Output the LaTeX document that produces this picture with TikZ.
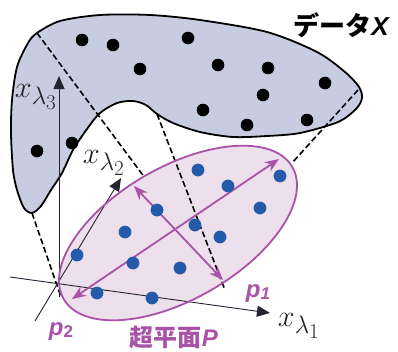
\documentclass[tikz,border=0pt]{standalone}
\usepackage{fontspec}
\setmainfont{Liberation Sans}
\newfontfamily\jpfont{Noto Sans CJK JP}
\usetikzlibrary{arrows.meta}
\definecolor{blobfill}{RGB}{200,204,224}
\definecolor{ellfill}{RGB}{237,223,235}
\definecolor{mag}{RGB}{168,82,168}
\definecolor{dotblue}{RGB}{35,90,170}
\definecolor{axisc}{RGB}{35,35,50}
\tikzset{
  blob/.style={draw=black, line width=1.8pt, fill=blobfill},
  proj/.style={draw=black, line width=1.6pt, dash pattern=on 6pt off 3pt},
  axisline/.style={draw=axisc, line width=0.9pt, -{Triangle[length=13pt,width=11pt]}},
  pcaarrow/.style={draw=mag, line width=1.8pt, {Stealth[length=14pt,width=11pt]}-{Stealth[length=14pt,width=11pt]}},
  bdot/.style={fill=black},
  udot/.style={fill=dotblue},
  axlabel/.style={text=black!85, font=\Huge, inner sep=0pt, scale=1.22, transform shape},
  plabel/.style={text=mag, font=\fontsize{24}{26}\selectfont\bfseries\itshape, inner sep=0pt}
}
\begin{document}
\begin{tikzpicture}[x=1pt,y=-1pt]
\useasboundingbox (0,0) rectangle (398,351);
% data blob
\draw[blob] plot[smooth cycle, tension=0.5] coordinates {
 (37,33) (60,21) (100,15) (150,15) (200,20) (267,32) (317,52) (345,72) (359,87) (362,98)
 (356,109) (338,122) (300,133) (267,136) (233,137) (200,132) (173,123) (157,114)
 (146,105) (133,101) (117,103) (100,113) (87,129) (73,150) (62,173) (51,190)
 (41,206) (32,213) (24,208) (17,190) (13,170) (11,133) (12,100) (17,67) (28,43)};
% black data points
\foreach \p in {(82,40),(113,45),(188,38),(140,69),(218,65),(268,68),(263,95),
  (325,83),(203,110),(247,125),(307,120),(37,151),(72,143)}
  \fill[bdot] \p circle (6.3pt);
% named coordinates
\coordinate (O) at (59,283);
\coordinate (x1s) at (10,277);
\coordinate (x1e) at (270,313);
\coordinate (x2s) at (35,321);
\coordinate (x2e) at (121,178);
\coordinate (x3s) at (59,297);
\coordinate (x3e) at (59,76);
\coordinate (c) at (178,233);
\coordinate (d1a) at (37,33);   \coordinate (d1b) at (145,178);
\coordinate (d2a) at (157,114); \coordinate (d2b) at (225,290);
\coordinate (d3a) at (358,90);  \coordinate (d3b) at (292,163);
\coordinate (d4a) at (32,213);  \coordinate (d4b) at (61,297);
\coordinate (p1a) at (72,299);  \coordinate (p1b) at (279,159);
\coordinate (p2a) at (134,186); \coordinate (p2b) at (223,280);
% projection lines outside the plane
\draw[proj] (d1a) -- (d1b);
\draw[proj] (d3a) -- (d3b);
\draw[proj] (d4a) -- (d4b);
% hyperplane fill
\fill[ellfill, rotate around={30:(c)}] (c) ellipse [x radius=132pt, y radius=66pt];
% axes
\draw[axisline] (x1s) -- (x1e);
\draw[axisline] (x2s) -- (x2e);
\draw[axisline] (x3s) -- (x3e);
\draw[proj] (d2a) -- (d2b);
% hyperplane outline
\draw[mag, line width=1.8pt, rotate around={30:(c)}] (c) ellipse [x radius=132pt, y radius=66pt];
% principal axes
\draw[pcaarrow] (p1a) -- (p1b);
\draw[pcaarrow] (p2a) -- (p2b);
% blue projected points
\foreach \p in {(198,170),(228,186),(280,176),(157,210),(260,208),(125,232),(195,225),
  (220,237),(77,255),(133,263),(180,268),(97,293),(152,298)}
  \fill[udot] \p circle (6.4pt);
% labels
\node[axlabel] (l3) at (36,97) {$x_{\lambda_3}$};
\node[axlabel] (l2) at (104,163) {$x_{\lambda_2}$};
\node[axlabel] (l1) at (299,326) {$x_{\lambda_1}$};
\node[plabel] (lp1) at (258,294) {p\raisebox{-0.15ex}{\fontsize{17}{18}\selectfont 1}};
\node[plabel] (lp2) at (61,332) {p\raisebox{-0.15ex}{\fontsize{17}{18}\selectfont\upshape 2}};
\node[text=mag, inner sep=0pt] (hp) at (174,337) {{\jpfont\bfseries\fontsize{24}{26}\selectfont 超平面}{\fontsize{24}{26}\selectfont\bfseries\itshape P}};
\node[text=black, inner sep=0pt] (dx) at (341,25) {{\jpfont\bfseries\fontsize{26}{28}\selectfont データ}{\fontsize{26}{28}\selectfont\bfseries\itshape X}};
\end{tikzpicture}
\end{document}
